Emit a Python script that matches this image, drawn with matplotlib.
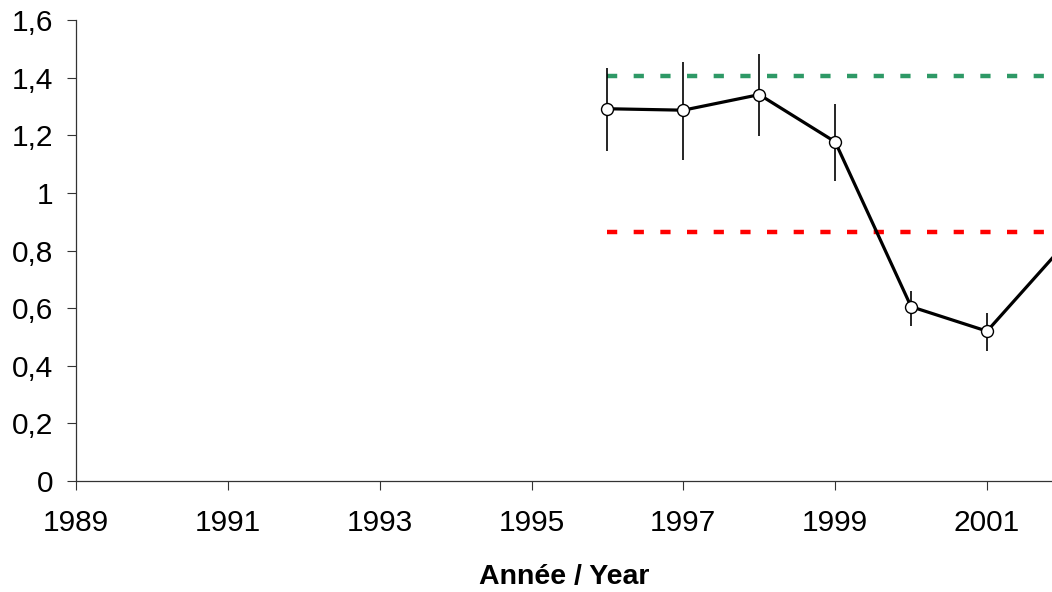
import numpy as np
import matplotlib.pyplot as plt
from matplotlib.ticker import FuncFormatter, MultipleLocator

plt.rcParams['font.family'] = ['Liberation Sans', 'DejaVu Sans']

# valeurs
years = [1996, 1997, 1998, 1999, 2000, 2001, 2002]
values = [1.292, 1.287, 1.341, 1.177, 0.605, 0.520, 0.815]
err_low = [0.147, 0.174, 0.142, 0.137, 0.066, 0.068, 0.06]
err_high = [0.140, 0.167, 0.140, 0.130, 0.056, 0.062, 0.06]

# lignes de référence
ref_start = 1996
ref_end = 2004
ref_green = 1.406
ref_red = 0.864


def fmt_comma(v, pos):
    return '{:g}'.format(round(v, 2)).replace('.', ',')


fig = plt.figure(figsize=(10.52, 5.92), dpi=100)
ax = fig.add_axes([76 / 1052, 111 / 592, 1 - 76 / 1052, 461 / 592])

ax.plot([ref_start, ref_end], [ref_green, ref_green], color='#2E9966',
        linewidth=3.2, linestyle=(0, (2.3, 3.7)), zorder=2)
ax.plot([ref_start, ref_end], [ref_red, ref_red], color='#FF0000',
        linewidth=3.2, linestyle=(0, (2.3, 3.7)), zorder=2)

ax.errorbar(years, values, yerr=[err_low, err_high], fmt='-o', color='black',
            linewidth=2.3, markersize=8.6, markerfacecolor='white',
            markeredgecolor='black', markeredgewidth=1.0,
            ecolor='black', elinewidth=1.2, capsize=0, zorder=3)

ax.set_xlim(1989, 1989 + 976 / 75.92)
ax.set_ylim(0, 1.6)
ax.xaxis.set_major_locator(MultipleLocator(2, offset=1))
ax.yaxis.set_major_locator(MultipleLocator(0.2))
ax.yaxis.set_major_formatter(FuncFormatter(fmt_comma))

for side in ['top', 'right']:
    ax.spines[side].set_visible(False)
for side in ['left', 'bottom']:
    ax.spines[side].set_linewidth(0.9)
    ax.spines[side].set_color('#333333')

ax.tick_params(axis='both', direction='out', length=6.5, width=0.8,
               color='#333333', labelsize=21.5)
ax.tick_params(axis='x', pad=14)
ax.tick_params(axis='y', pad=10)
ax.set_xlabel('Année / Year', fontsize=20.5, fontweight='bold', labelpad=19)

plt.savefig('out.png', dpi=100)
